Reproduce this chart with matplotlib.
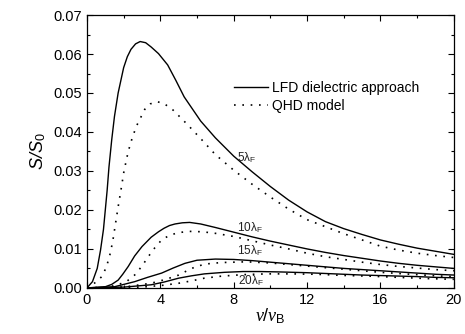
import matplotlib
matplotlib.use("Agg")
import matplotlib.pyplot as plt
from matplotlib.ticker import MultipleLocator, FormatStrFormatter

plt.rcParams['font.family'] = ['Liberation Sans', 'DejaVu Sans']
plt.rcParams['mathtext.fontset'] = 'custom'
plt.rcParams['mathtext.rm'] = 'Liberation Sans'
plt.rcParams['mathtext.it'] = 'Liberation Serif:italic'
plt.rcParams['mathtext.sf'] = 'Liberation Sans:italic'

# 5 lambda_F
x5_lfd = [0, 0.3, 0.56, 0.74, 0.9, 1.0, 1.1, 1.2, 1.35, 1.5, 1.7, 2.0, 2.2, 2.4, 2.65, 2.9,
          3.2, 3.5, 3.9, 4.4, 4.85, 5.3, 6.2, 7.0, 8.0, 9.0, 10.0, 11.0, 12.0, 13.0, 14.0,
          15.0, 16.0, 17.0, 18.0, 19.0, 20.0]
y5_lfd = [0, 0.0016, 0.005, 0.0097, 0.015, 0.020, 0.025, 0.031, 0.038, 0.044, 0.050, 0.0565,
          0.0593, 0.0612, 0.0626, 0.0632, 0.0629, 0.0618, 0.0601, 0.0572, 0.0532, 0.0490,
          0.0428, 0.0385, 0.0338, 0.0298, 0.0260, 0.0225, 0.0195, 0.0170, 0.0152, 0.0137,
          0.0123, 0.0112, 0.0102, 0.0094, 0.0086]
x5_qhd = [0, 0.5, 0.83, 1.07, 1.25, 1.4, 1.56, 1.7, 1.85, 2.02, 2.25, 2.5, 2.75, 3.15, 3.45,
          3.8, 4.2, 4.7, 5.5, 6.3, 7.0, 8.0, 9.0, 10.0, 11.0, 12.0, 13.0, 14.0, 15.0, 16.0,
          17.0, 18.0, 19.0, 20.0]
y5_qhd = [0, 0.0015, 0.003, 0.0055, 0.0085, 0.0118, 0.0166, 0.0208, 0.025, 0.030, 0.035,
          0.039, 0.042, 0.0458, 0.0472, 0.0478, 0.0473, 0.0456, 0.0418, 0.0378, 0.0342, 0.0302,
          0.0266, 0.0233, 0.0202, 0.0175, 0.0157, 0.0139, 0.0123, 0.0107, 0.0097, 0.0089,
          0.0083, 0.0078]

# 10 lambda_F
x10_lfd = [0, 1.0, 1.35, 1.7, 1.95, 2.25, 2.6, 3.0, 3.5, 3.9, 4.2, 4.5, 4.8, 5.2, 5.6, 6.2,
           7.0, 8.0, 9.0, 10.0, 11.0, 12.0, 13.0, 14.0, 15.0, 16.0, 17.0, 18.0, 19.0, 20.0]
y10_lfd = [0, 0.0003, 0.0009, 0.002, 0.0035, 0.0055, 0.0082, 0.0106, 0.0130, 0.0144, 0.0153,
           0.0160, 0.0164, 0.0167, 0.0168, 0.0164, 0.0155, 0.0143, 0.0131, 0.0120, 0.0110,
           0.0100, 0.0091, 0.0083, 0.0076, 0.0069, 0.0063, 0.0058, 0.0054, 0.0050]
x10_qhd = [0, 1.0, 1.7, 2.2, 2.6, 3.0, 3.34, 3.7, 4.07, 4.5, 5.0, 5.6, 6.3, 7.0, 8.0, 9.0,
           10.0, 11.0, 12.0, 13.0, 14.0, 15.0, 16.0, 17.0, 18.0, 19.0, 20.0]
y10_qhd = [0, 0.0001, 0.0008, 0.0018, 0.0033, 0.0056, 0.008, 0.0103, 0.0123, 0.0135, 0.0142,
           0.0145, 0.0144, 0.0140, 0.0132, 0.0121, 0.0110, 0.0100, 0.0089, 0.0080, 0.0073,
           0.0066, 0.0060, 0.0055, 0.0051, 0.0047, 0.0044]

# 15 lambda_F
x15_lfd = [0, 1.5, 2.6, 3.3, 4.07, 4.7, 5.34, 6.0, 7.0, 8.0, 9.0, 10.0, 11.0, 12.0, 13.0,
           14.0, 15.0, 16.0, 17.0, 18.0, 19.0, 20.0]
y15_lfd = [0, 0.0003, 0.0016, 0.0027, 0.0038, 0.0051, 0.0063, 0.0071, 0.0074, 0.0073, 0.0070,
           0.0066, 0.0062, 0.0058, 0.0054, 0.0050, 0.0047, 0.0044, 0.0041, 0.0038, 0.0035, 0.0033]
x15_qhd = [0, 2.0, 3.5, 4.3, 5.0, 5.7, 6.4, 7.3, 8.7, 10.0, 11.0, 12.0, 13.0, 14.0, 15.0,
           16.0, 17.0, 18.0, 19.0, 20.0]
y15_qhd = [0, 0.0002, 0.0012, 0.0022, 0.0033, 0.0050, 0.0061, 0.0065, 0.0067, 0.0064, 0.0060,
           0.0056, 0.0052, 0.0048, 0.0044, 0.0040, 0.0037, 0.0034, 0.0031, 0.0029]

# 20 lambda_F
x20_lfd = [0, 2.0, 3.5, 4.2, 5.0, 5.7, 6.4, 7.5, 8.5, 9.4, 10.5, 12.0, 13.5, 15.0, 16.5,
           18.0, 19.0, 20.0]
y20_lfd = [0, 0.0002, 0.0008, 0.0015, 0.0025, 0.0031, 0.0036, 0.0040, 0.0042, 0.0042, 0.0041,
           0.0039, 0.0036, 0.0033, 0.0031, 0.0029, 0.0027, 0.0026]
x20_qhd = [0, 3.0, 4.2, 5.0, 5.7, 6.4, 7.3, 8.5, 9.8, 11.2, 12.5, 14.0, 15.5, 17.0, 18.5, 20.0]
y20_qhd = [0, 0.0002, 0.0007, 0.0012, 0.0018, 0.0025, 0.0030, 0.0034, 0.0036, 0.0036, 0.0035,
           0.0032, 0.0030, 0.0027, 0.0024, 0.0022]

labels = ["5λ$_\\mathrm{F}$", "10λ$_\\mathrm{F}$", "15λ$_\\mathrm{F}$", "20λ$_\\mathrm{F}$"]
label_x = [8.2, 8.2, 8.2, 8.25]
label_y = [0.0326, 0.0146, 0.0087, 0.0010]

fig = plt.figure(figsize=(4.65, 3.34), dpi=100)
ax = fig.add_axes([0.187, 0.138, 0.789, 0.817])

dot = (0, (1, 4))
ax.plot(x5_lfd, y5_lfd, color='black', lw=1.0, label='LFD dielectric approach')
ax.plot(x5_qhd, y5_qhd, color='black', lw=1.2, ls=dot, label='QHD model')
for xs, ys in [(x10_lfd, y10_lfd), (x15_lfd, y15_lfd), (x20_lfd, y20_lfd)]:
    ax.plot(xs, ys, color='black', lw=1.0)
for xs, ys in [(x10_qhd, y10_qhd), (x15_qhd, y15_qhd), (x20_qhd, y20_qhd)]:
    ax.plot(xs, ys, color='black', lw=1.2, ls=dot)

for t, lx, ly in zip(labels, label_x, label_y):
    ax.text(lx, ly, t, fontsize=8.5, va='baseline', ha='left', color='#222222')

ax.set_xlim(0, 20)
ax.set_ylim(0, 0.07)
ax.xaxis.set_major_locator(MultipleLocator(4))
ax.xaxis.set_minor_locator(MultipleLocator(2))
ax.yaxis.set_major_locator(MultipleLocator(0.01))
ax.yaxis.set_minor_locator(MultipleLocator(0.005))
ax.yaxis.set_major_formatter(FormatStrFormatter('%.2f'))
ax.tick_params(which='both', direction='in', top=True, right=True, labelsize=10.5, width=0.8)
ax.tick_params(which='major', length=4)
ax.tick_params(which='minor', length=2.5)
for s in ax.spines.values():
    s.set_linewidth(0.9)

ax.set_xlabel(r'$\mathit{v}/\mathit{v}_\mathrm{B}$', fontsize=13, labelpad=0)
ax.set_ylabel(r'$\mathsf{S/S}_0$', fontsize=13, labelpad=4)

ax.legend(loc='upper left', bbox_to_anchor=(0.40, 0.76), frameon=False, fontsize=10,
          handlelength=2.5, handletextpad=0.25, labelspacing=0.3, borderpad=0, borderaxespad=0)

fig.savefig('out.png', dpi=100)
